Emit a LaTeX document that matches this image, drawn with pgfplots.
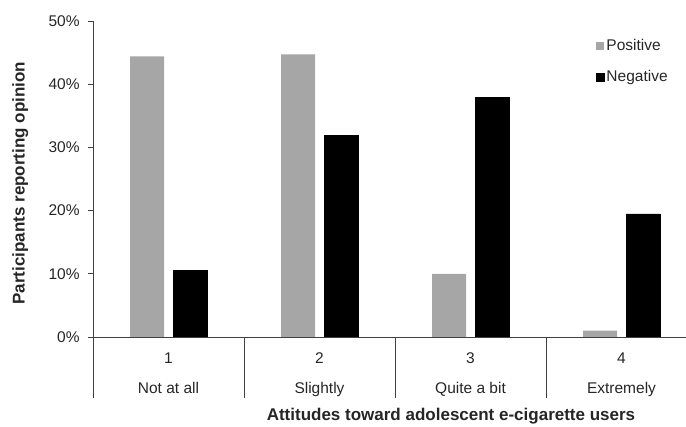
\documentclass[border=0pt]{standalone}
\usepackage{fontspec}
\setmainfont{Liberation Sans}
\usepackage{pgfplots}
\pgfplotsset{compat=1.18}
\definecolor{posgray}{HTML}{A6A6A6}
\definecolor{axgray}{HTML}{404040}
\definecolor{txt}{HTML}{262626}
\begin{document}
\fontsize{15.5pt}{18.5pt}\selectfont
\begin{tikzpicture}[x=1pt,y=1pt]
\begin{axis}[
  at={(93pt,90pt)}, anchor=south west,
  scale only axis, width=593pt, height=316pt,
  xmin=0.5, xmax=4.427, ymin=0, ymax=50,
  axis x line*=bottom, axis y line*=left,
  axis line style={-, axgray, line width=0.9pt},
  font=\fontsize{15.5pt}{18.5pt}\selectfont,
  tick label style={txt},
  tick style={axgray, line width=0.9pt},
  tick align=outside,
  major tick length=61pt,
  ytick=\empty,
  extra y ticks={0,10,20,30,40,50},
  extra y tick labels={0\%,10\%,20\%,30\%,40\%,50\%},
  extra y tick style={major tick length=5pt, tick style={axgray, line width=0.9pt},
    tick label style={xshift=-3pt}},
  xtick={0.5,1.5,2.5,3.5},
  xticklabels={},
  extra x ticks={1,2,3,4},
  extra x tick labels={{1\\[12pt]Not at all},{2\\[12pt]Slightly},{3\\[12pt]Quite a bit},{4\\[12pt]Extremely}},
  extra x tick style={major tick length=0pt, tick style={draw=none},
    tick label style={align=center, yshift=-10pt}},
  xlabel={Attitudes toward adolescent e-cigarette users},
  ylabel={Participants reporting opinion},
  label style={font=\fontsize{17pt}{20pt}\selectfont\bfseries, txt},
  xlabel style={at={(axis description cs:0.6037,-0.251)}, anchor=center},
  ylabel style={at={(axis description cs:-0.1225,0.487)}, anchor=center},
  ybar, bar width=34pt,
  legend style={draw=none, fill=none, at={(0.848,0.95)}, anchor=north west,
    font=\fontsize{15.5pt}{18.5pt}\selectfont, text=txt, row sep=14pt, inner sep=0pt},
  legend cell align=left,
  legend image code/.code={\fill[#1] (0pt,-4pt) rectangle (8pt,4pt);},
]
\addplot[bar shift=-21.5pt, fill=posgray, draw=none] coordinates {(1,44.4) (2,44.7) (3,10.0) (4,1.0)};
\addlegendentry{Positive}
\addplot[bar shift=21.5pt, fill=black, draw=black] coordinates {(1,10.5) (2,31.9) (3,37.9) (4,19.5)};
\addlegendentry{Negative}
\end{axis}
\pgfresetboundingbox
\path (0pt,0pt) rectangle (686pt,427pt);
\end{tikzpicture}
\end{document}
